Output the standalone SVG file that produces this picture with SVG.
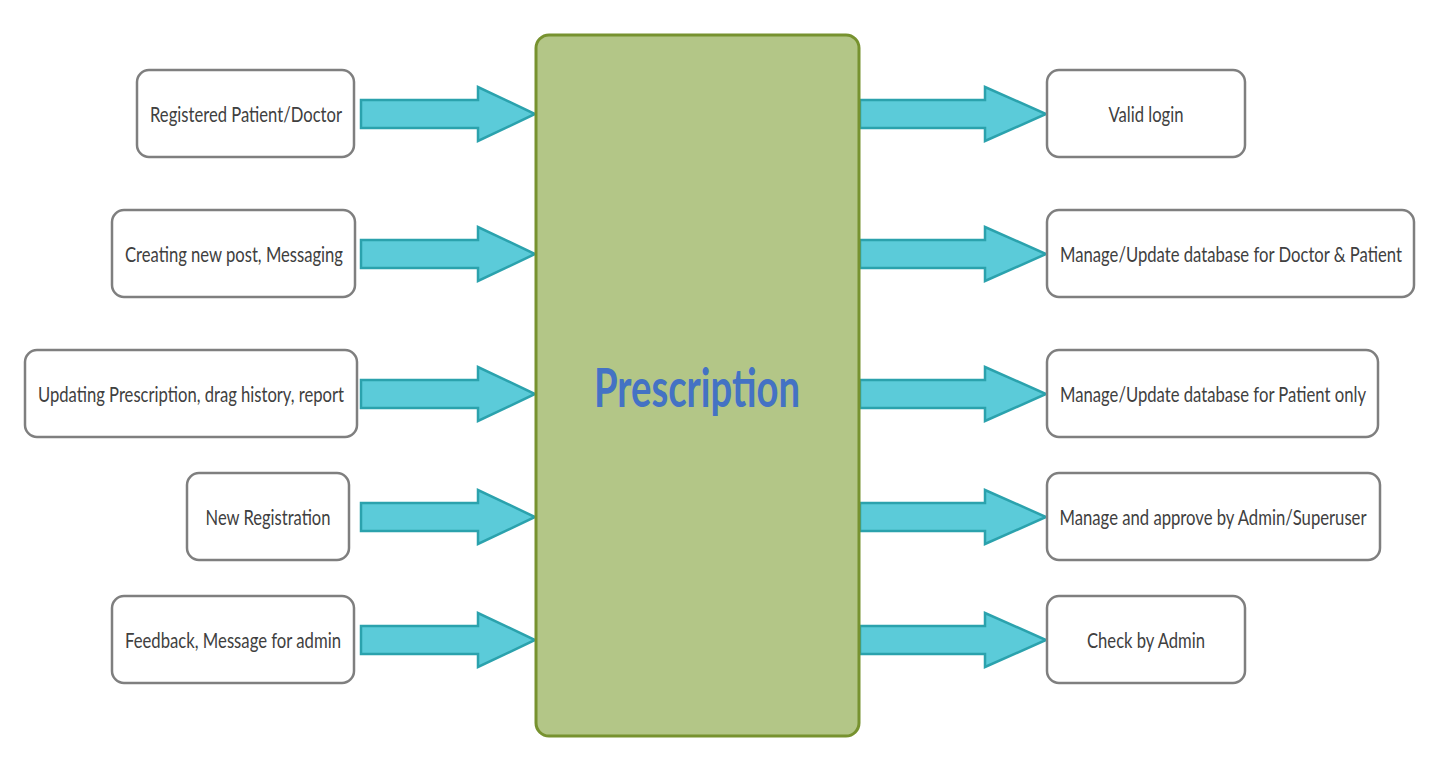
<svg xmlns="http://www.w3.org/2000/svg" width="1440" height="771" viewBox="0 0 1440 771">
<style>
.box{fill:#ffffff;stroke:#7f7f7f;stroke-width:2.5}
.lbl{font-family:Lato,"Liberation Sans",sans-serif;font-size:21px;fill:#404040;text-anchor:middle}
.arr{fill:#5bcbd9;stroke:#2ba2ad;stroke-width:2.5;stroke-linejoin:miter}
</style>
<rect width="1440" height="771" fill="#ffffff"/>
<g id="connectors">
<path class="arr" d="M361 100 H478 V87 L535 114 L478 141 V128 H361 Z"/>
<path class="arr" d="M361 240 H478 V227 L535 254 L478 281 V268 H361 Z"/>
<path class="arr" d="M361 380 H478 V367 L535 394 L478 421 V408 H361 Z"/>
<path class="arr" d="M361 503 H478 V490 L535 517 L478 544 V531 H361 Z"/>
<path class="arr" d="M361 626 H478 V613 L535 640 L478 667 V654 H361 Z"/>
<path class="arr" d="M860 100 H985 V87 L1046 114 L985 141 V128 H860 Z"/>
<path class="arr" d="M860 240 H985 V227 L1046 254 L985 281 V268 H860 Z"/>
<path class="arr" d="M860 380 H985 V367 L1046 394 L985 421 V408 H860 Z"/>
<path class="arr" d="M860 503 H985 V490 L1046 517 L985 544 V531 H860 Z"/>
<path class="arr" d="M860 626 H985 V613 L1046 640 L985 667 V654 H860 Z"/>
</g>
<g id="prescription">
<rect x="536" y="35" width="323" height="701" rx="13" fill="#b3c687" stroke="#77922f" stroke-width="3"/>
<text x="697" y="407" font-family="Lato,'Liberation Sans',sans-serif" font-size="54" font-weight="bold" fill="#4472c4" text-anchor="middle" textLength="206" lengthAdjust="spacingAndGlyphs">Prescription</text>
</g>
<g id="in1"><rect class="box" x="137" y="70" width="217" height="87" rx="12"/><text class="lbl" x="246" y="122" textLength="192" lengthAdjust="spacingAndGlyphs">Registered Patient/Doctor</text></g>
<g id="in2"><rect class="box" x="112" y="210" width="243" height="87" rx="12"/><text class="lbl" x="234" y="262" textLength="218" lengthAdjust="spacingAndGlyphs">Creating new post, Messaging</text></g>
<g id="in3"><rect class="box" x="25" y="350" width="332" height="87" rx="12"/><text class="lbl" x="191" y="402" textLength="306" lengthAdjust="spacingAndGlyphs">Updating Prescription, drag history, report</text></g>
<g id="in4"><rect class="box" x="187" y="473" width="162" height="87" rx="12"/><text class="lbl" x="268" y="525" textLength="125" lengthAdjust="spacingAndGlyphs">New Registration</text></g>
<g id="in5"><rect class="box" x="112" y="596" width="242" height="87" rx="12"/><text class="lbl" x="233" y="648" textLength="216" lengthAdjust="spacingAndGlyphs">Feedback, Message for admin</text></g>
<g id="out1"><rect class="box" x="1047" y="70" width="198" height="87" rx="12"/><text class="lbl" x="1146" y="122" textLength="75" lengthAdjust="spacingAndGlyphs">Valid login</text></g>
<g id="out2"><rect class="box" x="1047" y="210" width="367" height="87" rx="12"/><text class="lbl" x="1231" y="262" textLength="342" lengthAdjust="spacingAndGlyphs">Manage/Update database for Doctor &amp; Patient</text></g>
<g id="out3"><rect class="box" x="1047" y="350" width="331" height="87" rx="12"/><text class="lbl" x="1213" y="402" textLength="306" lengthAdjust="spacingAndGlyphs">Manage/Update database for Patient only</text></g>
<g id="out4"><rect class="box" x="1047" y="473" width="333" height="87" rx="12"/><text class="lbl" x="1213" y="525" textLength="307" lengthAdjust="spacingAndGlyphs">Manage and approve by Admin/Superuser</text></g>
<g id="out5"><rect class="box" x="1047" y="596" width="198" height="87" rx="12"/><text class="lbl" x="1146" y="648" textLength="118" lengthAdjust="spacingAndGlyphs">Check by Admin</text></g>
</svg>
